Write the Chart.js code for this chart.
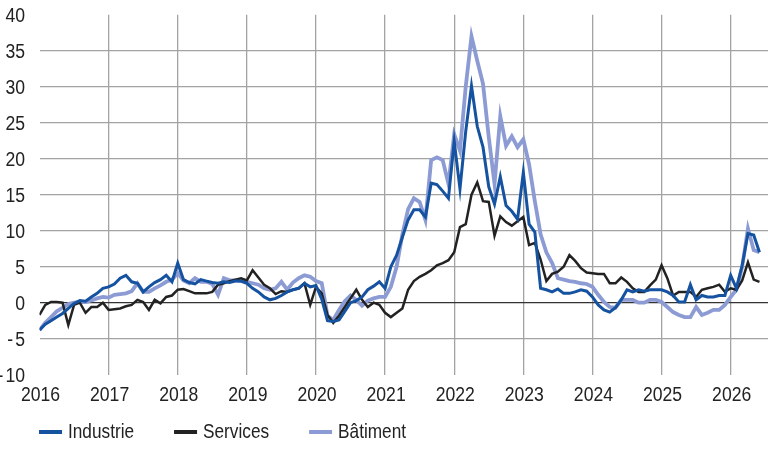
<!DOCTYPE html>
<html>
<head>
<meta charset="utf-8">
<script src="https://cdn.jsdelivr.net/npm/chart.js@4.4.1/dist/chart.umd.min.js"></script>
<style>
html,body{margin:0;padding:0;background:#fff;}
#wrap{width:768px;height:462px;position:relative;}
</style>
</head>
<body>
<div id="wrap"><canvas id="c" width="768" height="462"></canvas></div>
<script>
// Monthly series, Jan 2016 .. Jun 2026
const startYear = 2016;
const industrie = [
 -3.8,-3.0,-2.5,-2.0,-1.5,-0.8,-0.1,0.3,0.2,0.8,1.3,2.0,
 2.2,2.6,3.4,3.8,2.9,2.7,1.5,2.2,2.8,3.2,3.8,2.9,
 5.5,3.2,2.8,2.6,3.2,3.0,2.8,2.7,2.9,2.8,3.0,3.0,
 2.7,2.0,1.5,0.8,0.4,0.6,1.0,1.5,1.8,2.0,2.7,2.2,
 2.4,0.5,-2.5,-2.6,-2.4,-1.2,0.0,0.3,0.8,1.8,2.3,2.9,
 2.0,5.0,6.6,9.1,11.5,12.9,12.9,11.9,16.6,16.4,15.5,14.5,
 22.4,15.8,23.8,30.1,24.5,21.6,16.1,13.7,17.5,13.5,12.7,11.6,
 18.1,10.9,9.8,2.0,1.8,1.5,1.9,1.3,1.3,1.5,1.8,1.6,
 0.8,-0.3,-1.0,-1.3,-0.7,0.4,1.8,1.5,1.8,1.6,1.8,1.8,
 1.8,1.5,1.0,0.1,0.1,2.5,0.4,1.0,0.8,0.8,1.0,1.0,
 3.8,2.0,5.2,9.6,9.4,7.0
];
const services = [
 -1.7,-0.3,0.1,0.1,0.0,-3.1,-0.3,0.0,-1.4,-0.6,-0.6,0.0,
 -1.0,-0.9,-0.8,-0.5,-0.3,0.4,0.1,-1.0,0.4,-0.1,0.8,1.0,
 1.8,1.9,1.6,1.3,1.3,1.3,1.5,2.5,2.7,3.0,3.2,3.4,
 3.1,4.5,3.5,2.5,2.0,1.2,1.6,1.5,1.8,2.0,2.7,-0.3,
 2.2,1.3,-1.7,-2.8,-1.8,-0.6,0.6,1.8,0.4,-0.6,0.0,-0.3,
 -1.4,-2.0,-1.4,-0.8,1.8,3.0,3.6,4.0,4.5,5.2,5.5,5.9,
 7.0,10.5,10.9,15.0,16.7,14.1,14.0,9.3,12.0,11.2,10.7,11.3,
 11.9,8.0,8.3,6.0,3.0,4.0,4.3,5.0,6.6,5.8,4.8,4.2,
 4.1,4.0,4.0,2.7,2.7,3.5,2.9,2.0,1.5,1.5,2.4,3.2,
 5.2,3.4,1.0,1.5,1.5,1.5,0.8,1.8,2.0,2.2,2.5,1.5,
 2.0,1.8,3.1,5.6,3.2,2.9
];
const batiment = [
 -3.8,-2.8,-2.0,-1.2,-0.7,-0.2,0.0,0.1,0.1,0.3,0.6,0.8,
 0.7,1.1,1.2,1.3,1.6,2.7,1.5,1.5,2.0,2.4,2.9,3.2,
 4.1,3.1,2.7,3.4,2.9,2.9,2.6,1.1,3.4,3.1,3.1,3.0,
 2.9,2.7,2.5,2.0,1.8,2.0,2.9,1.8,2.8,3.4,3.8,3.6,
 3.0,2.7,-1.8,-2.4,-1.0,0.2,1.0,0.4,-0.4,0.3,0.6,0.8,
 0.8,2.2,5.0,9.5,13.0,14.5,14.0,11.5,19.8,20.2,19.8,16.5,
 23.4,21.1,30.0,37.0,33.6,30.4,23.0,16.5,25.9,21.8,23.1,21.6,
 22.7,19.2,14.1,9.5,7.0,5.5,3.4,3.2,3.0,2.9,2.7,2.6,
 2.2,1.1,0.1,-0.6,-0.7,0.4,0.4,0.4,0.0,0.0,0.4,0.4,
 0.1,-0.6,-1.3,-1.7,-2.0,-2.0,-0.6,-1.7,-1.4,-1.0,-1.0,-0.3,
 0.8,1.8,5.0,10.3,7.3,7.0
];
const seriesNames = ['Industrie','Services','Bâtiment'];
const xTickYears = [2016,2017,2018,2019,2020,2021,2022,2023,2024,2025,2026];
const yTickValues = [-10,-5,0,5,10,15,20,25,30,35,40];

const FONT = "'Liberation Sans',Arial,sans-serif";
const NARROW_TICK = 0.88;   // condensed look for axis labels
const NARROW_LEGEND = 0.82; // condensed look for legend
const TXT = '#222222';
const colors = ['#1552a0','#222222','#8c9bd3'];
const widths = [3,2.5,3.8];

function toPoints(arr){ return arr.map((v,i)=>({x: startYear + i/12, y: v})); }

function narrowText(ctx, t, x, y, align, k){
  ctx.save();
  ctx.translate(x, y);
  ctx.scale(k, 1);
  ctx.textAlign = align;
  ctx.fillText(t, 0, 0);
  ctx.restore();
}

const labelsPlugin = {
  id: 'narrowLabels',
  afterDraw(chart){
    const ctx = chart.ctx;
    const xs = chart.scales.x, ys = chart.scales.y;
    ctx.save();
    ctx.fillStyle = TXT;
    ctx.textBaseline = 'alphabetic';
    ctx.font = "20px " + FONT;
    yTickValues.forEach(v => {
      const py = ys.getPixelForValue(v) + 7;
      const num = String(Math.abs(v));
      narrowText(ctx, num, 25, py, 'right', NARROW_TICK);
      if (v < 0) {
        const w = ctx.measureText(num).width * NARROW_TICK;
        narrowText(ctx, '-', 25 - w - 2, py, 'right', NARROW_TICK);
      }
    });
    xTickYears.forEach(v => narrowText(ctx, String(v), xs.getPixelForValue(v) + 1, 401, 'center', NARROW_TICK));
    // legend
    ctx.font = "21px " + FONT;
    let x = 39;
    const yMid = 432, mW = 23, mH = 4;
    chart.data.datasets.forEach((ds)=>{
      ctx.fillStyle = ds.borderColor;
      ctx.fillRect(x, yMid - mH/2, mW, mH);
      ctx.fillStyle = TXT;
      const tx = x + mW + 6;
      narrowText(ctx, ds.label, tx, 438, 'left', NARROW_LEGEND);
      x = tx + ctx.measureText(ds.label).width * NARROW_LEGEND + 40;
    });
    ctx.restore();
  }
};

new Chart(document.getElementById('c'), {
  type: 'line',
  data: {
    datasets: [industrie, services, batiment].map((arr,i)=>({
      label: seriesNames[i],
      data: toPoints(arr),
      borderColor: colors[i],
      backgroundColor: colors[i],
      borderWidth: widths[i],
      pointRadius: 0,
      tension: 0,
      fill: false
    }))
  },
  options: {
    responsive: false,
    animation: false,
    events: [],
    layout: { padding: { top: 14.7, right: 0, bottom: 57.3, left: 0 } },
    plugins: { legend: { display: false }, tooltip: { enabled: false } },
    scales: {
      x: {
        type: 'linear',
        min: 2016, max: 2026.54,
        border: { display: false },
        grid: {
          drawTicks: false,
          color: (c)=> c.tick && c.tick.value === 2016 ? 'rgba(0,0,0,0)' : '#a3a3a3',
          lineWidth: 1.3
        },
        afterBuildTicks: (s)=>{ s.ticks = xTickYears.map(v=>({value:v})); },
        afterFit: (s)=>{ s.height = 30; },
        ticks: { display: false }
      },
      y: {
        min: -10, max: 40,
        border: { display: false },
        grid: {
          drawTicks: false,
          color: (c)=> {
            const v = c.tick ? c.tick.value : null;
            if (v === 0) return '#333333';
            if (v === -10 || v === 40) return 'rgba(0,0,0,0)';
            return '#a3a3a3';
          },
          lineWidth: (c)=> (c.tick && c.tick.value === 0) ? 1.2 : 1.3
        },
        afterBuildTicks: (s)=>{ s.ticks = yTickValues.map(v=>({value:v})); },
        afterFit: (s)=>{ s.width = 39.5; },
        ticks: { display: false }
      }
    }
  },
  plugins: [labelsPlugin]
});
</script>
</body>
</html>
